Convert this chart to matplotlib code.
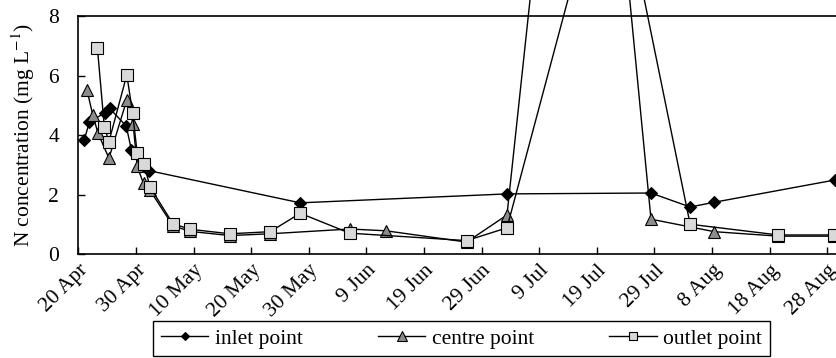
import numpy as np
import matplotlib.pyplot as plt

plt.rcParams['font.family'] = 'Liberation Serif'
plt.rcParams['mathtext.fontset'] = 'stix'
plt.rcParams['font.size'] = 15.5

# sampling days, counted from 20 April
inlet_day = [1.0, 1.9, 4.6, 5.4, 8.3, 9.2, 12.3, 38.5, 74.4, 99.4, 106.2, 110.4, 131.4]
inlet_n = [3.83, 4.43, 4.75, 4.9, 4.3, 3.5, 2.8, 1.72, 2.02, 2.05, 1.58, 1.74, 2.49]

centre_day = [1.5, 2.5, 3.4, 5.3, 8.4, 9.5, 10.2, 11.3, 12.4, 16.4, 19.4, 26.3, 33.3,
              47.1, 53.4, 67.4, 74.4, 87.5, 99.4, 110.4, 121.5, 131.2]
centre_n = [5.5, 4.67, 4.06, 3.22, 5.18, 4.37, 2.95, 2.37, 2.15, 0.95, 0.76, 0.62, 0.68,
            0.84, 0.78, 0.4, 1.31, 25.0, 1.17, 0.75, 0.6, 0.6]

outlet_day = [3.3, 4.5, 5.3, 8.4, 9.4, 10.2, 11.4, 12.4, 16.4, 19.4, 26.3, 33.3, 38.5,
              47.1, 67.4, 74.4, 92.5, 106.2, 121.5, 131.2]
outlet_n = [6.92, 4.27, 3.78, 6.02, 4.75, 3.4, 3.04, 2.26, 1.02, 0.83, 0.68, 0.75, 1.37,
            0.70, 0.45, 0.88, 14.0, 1.0, 0.64, 0.64]

tick_days = np.arange(0, 131, 10)
tick_labels = ['20 Apr', '30 Apr', '10 May', '20 May', '30 May', '9 Jun', '19 Jun',
               '29 Jun', '9 Jul', '19 Jul', '29 Jul', '8 Aug', '18 Aug', '28 Aug']

fig = plt.figure(figsize=(8.36, 3.58), dpi=100)
ax = fig.add_axes([0.0938, 0.2905, 0.9164, 0.6648])

ax.plot(inlet_day, inlet_n, color='k', lw=1, marker='D', ms=5.8, mfc='k', mec='k',
        mew=0.8, clip_on=False, label='inlet point', zorder=3)
ax.plot(centre_day, centre_n, color='k', lw=1, marker='^', ms=9, mfc='#8c8c8c', mec='k',
        mew=0.8, clip_on=False, label='centre point', zorder=4)
ax.plot(outlet_day, outlet_n, color='k', lw=1, marker='s', ms=8, mfc='#d9d9d9', mec='k',
        mew=0.8, clip_on=False, label='outlet point', zorder=5)

ax.set_xlim(0, 133)
ax.set_ylim(0, 8)
ax.set_yticks([0, 2, 4, 6, 8])
ax.set_xticks(tick_days)
ax.set_xticklabels(tick_labels, rotation=45, ha='right', va='top', rotation_mode='anchor')
ax.tick_params(direction='in', length=5, width=1)
ax.tick_params(axis='x', pad=5)
ax.tick_params(axis='y', pad=14)
ax.set_ylabel('N concentration (mg L$^{-1}$)', labelpad=8)
for s in ax.spines.values():
    s.set_linewidth(1.2)

fig.legend(loc='upper center', bbox_to_anchor=(0.552, 0.103), ncol=3, frameon=True,
           fancybox=False, edgecolor='k', framealpha=1, handlelength=2.2,
           columnspacing=3.5, handletextpad=0.3, markerscale=0.75, borderpad=0.35,
           borderaxespad=0)

fig.savefig('out.png', dpi=100)
